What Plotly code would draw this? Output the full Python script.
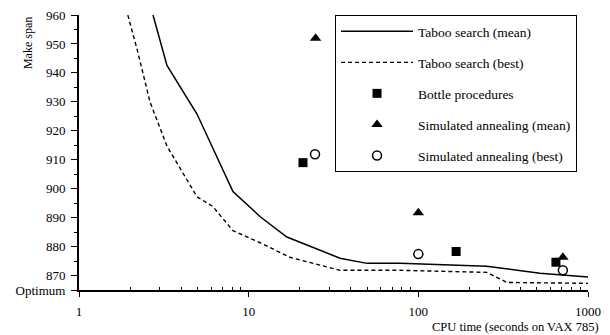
import plotly.graph_objects as go

# Taboo search (mean) curve
ts_mean_x = [2.73, 3.30, 4.96, 8.08, 11.7, 16.8, 34.5, 49.8, 78, 253, 521, 1000]
ts_mean_y = [960, 942.6, 925.8, 899, 890.3, 883.3, 876, 874.2, 874.2, 873.2, 870.8, 869.5]

# Taboo search (best) curve
ts_best_x = [1.94, 2.23, 2.62, 3.30, 4.96, 6.16, 8.08, 11.5, 17.5, 28.9, 34.5, 78, 253, 333, 1000]
ts_best_y = [960, 946.8, 930, 914.7, 897.2, 893.8, 885.5, 881.5, 876.3, 872.8, 871.8, 871.8, 871.1, 867.6, 867.3]

# Bottle procedures
bp_x = [20.9, 167, 647]
bp_y = [909, 878.3, 874.6]

# Simulated annealing (mean)
sa_mean_x = [24.8, 100, 711]
sa_mean_y = [952, 891.7, 876.3]

# Simulated annealing (best)
sa_best_x = [24.6, 100, 711]
sa_best_y = [911.9, 877.4, 871.8]

x_tickvals = [1, 10, 100, 1000]
x_ticktext = ["1", "10", "100", "1000"]
x_minor = [2, 3, 4, 5, 6, 7, 8, 9, 20, 30, 40, 50, 60, 70, 80, 90,
           200, 300, 400, 500, 600, 700, 800, 900]
y_tickvals = [865, 870, 880, 890, 900, 910, 920, 930, 940, 950, 960]
y_ticktext = ["Optimum", "870", "880", "890", "900", "910", "920", "930", "940", "950", "960"]
y_minor = [875, 885, 895, 905, 915, 925, 935, 945, 955]

FONT = "Liberation Serif"

fig = go.Figure()
fig.add_trace(go.Scatter(x=ts_mean_x, y=ts_mean_y, mode="lines", name="Taboo search (mean)",
                         line=dict(color="black", width=1.5), legendgroup="a"))
fig.add_trace(go.Scatter(x=ts_best_x, y=ts_best_y, mode="lines", name="Taboo search (best)",
                         line=dict(color="black", width=1.4, dash="4px,3px"), legendgroup="b"))
fig.add_trace(go.Scatter(x=bp_x, y=bp_y, mode="markers", name="Bottle procedures",
                         marker=dict(symbol="square", size=9, color="black"), legendgroup="c"))
fig.add_trace(go.Scatter(x=sa_mean_x, y=sa_mean_y, mode="markers", name="Simulated annealing (mean)",
                         marker=dict(symbol="triangle-up", size=10, color="black"), legendgroup="d"))
fig.add_trace(go.Scatter(x=sa_best_x, y=sa_best_y, mode="markers", name="Simulated annealing (best)",
                         marker=dict(symbol="circle-open", size=9, color="black", line=dict(width=1.5)),
                         legendgroup="e"))

fig.update_layout(
    width=610, height=335,
    margin=dict(l=79, r=22, t=15, b=45, autoexpand=False),
    plot_bgcolor="white", paper_bgcolor="white",
    font=dict(family=FONT, size=13, color="black"),
    showlegend=True,
    legend=dict(x=0.503, y=1.0, xanchor="left", yanchor="top",
                bordercolor="black", borderwidth=1, bgcolor="white",
                font=dict(family=FONT, size=13.5), tracegroupgap=10.5,
                traceorder="grouped", itemwidth=72),
    xaxis=dict(type="log", range=[0, 3], showgrid=False, zeroline=False, automargin=False,
               showline=True, linecolor="black", linewidth=2,
               tickvals=x_tickvals, ticktext=x_ticktext,
               ticks="outside", ticklen=5, tickwidth=1, tickcolor="black",
               ticklabelstandoff=3,
               minor=dict(tickvals=x_minor, ticks="inside", ticklen=3, tickcolor="black")),
    yaxis=dict(range=[865, 960], showgrid=False, zeroline=False, automargin=False,
               showline=True, linecolor="black", linewidth=2,
               tickvals=y_tickvals, ticktext=y_ticktext,
               ticks="outside", ticklen=6, tickwidth=1, tickcolor="black",
               ticklabelstandoff=3,
               minor=dict(tickvals=y_minor, ticks="outside", ticklen=3, tickcolor="black")),
    annotations=[
        dict(text="Make span", x=-0.1, y=1.0, xref="paper", yref="paper",
             xanchor="center", yanchor="top", textangle=-90, showarrow=False,
             font=dict(family=FONT, size=12)),
        dict(text="CPU time (seconds on VAX 785)", x=1.024, y=-0.162, xref="paper", yref="paper",
             xanchor="right", yanchor="bottom", showarrow=False, borderpad=0,
             font=dict(family=FONT, size=12.5)),
    ],
)

fig.write_html("out.html", config={"displayModeBar": False},
               post_script="document.body.style.margin='0';document.body.style.overflow='hidden';")
